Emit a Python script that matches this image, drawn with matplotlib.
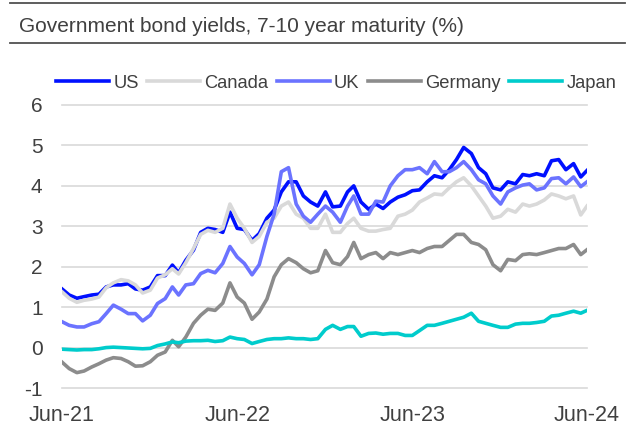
import datetime as dt
import matplotlib
matplotlib.use("Agg")
import matplotlib.pyplot as plt
from matplotlib.lines import Line2D

plt.rcParams['font.family'] = ['Liberation Sans', 'DejaVu Sans']

# ---- data (semi-monthly readings, % yield) ----
dates = [dt.date(2021, 6, 30)]
for y in (2021, 2022, 2023, 2024):
    for m in range(1, 13):
        if (y == 2021 and m < 7) or (y == 2024 and m > 6):
            continue
        dates.append(dt.date(y, m, 15))
        nxt = dt.date(y + (m == 12), m % 12 + 1, 1)
        dates.append(nxt - dt.timedelta(days=1))
dates[-1] = dt.date(2024, 6, 28)

us = [1.45, 1.30, 1.22, 1.26, 1.30, 1.32, 1.50, 1.55, 1.55, 1.58, 1.45, 1.42, 1.50, 1.78, 1.78,
      2.04, 1.85, 2.16, 2.41, 2.85, 2.95, 2.92, 2.85, 3.35, 2.95, 2.92, 2.65, 2.82, 3.20,
      3.40, 3.85, 4.10, 4.10, 3.75, 3.60, 3.50, 3.85,
      3.48, 3.50, 3.85, 4.00, 3.60, 3.42, 3.55, 3.44, 3.60, 3.72, 3.78, 3.88, 3.90, 4.10,
      4.25, 4.20, 4.40, 4.65, 4.95, 4.80,
      4.45, 4.30, 3.95, 3.90, 4.10, 4.05, 4.28, 4.25, 4.30, 4.25, 4.62, 4.65, 4.40, 4.55, 4.22, 4.38]

canada = [1.38, 1.22, 1.12, 1.17, 1.20, 1.25, 1.48, 1.60, 1.68, 1.65, 1.55, 1.35, 1.42, 1.72, 1.80,
          1.95, 1.82, 2.10, 2.45, 2.80, 2.90, 2.85, 2.95, 3.55, 3.20, 2.95, 2.60, 2.75, 3.10,
          3.20, 3.50, 3.60, 3.30, 3.20, 2.95, 2.95, 3.30,
          2.85, 2.85, 3.07, 3.20, 2.95, 2.88, 2.88, 2.92, 2.95, 3.25, 3.30, 3.40, 3.60, 3.70,
          3.80, 3.78, 3.95, 4.10, 4.20, 4.00,
          3.75, 3.50, 3.20, 3.25, 3.42, 3.35, 3.55, 3.50, 3.55, 3.65, 3.80, 3.75, 3.68, 3.75, 3.28, 3.50]

uk = [0.64, 0.55, 0.51, 0.51, 0.59, 0.64, 0.84, 1.05, 0.95, 0.84, 0.84, 0.66, 0.80, 1.09, 1.21,
      1.50, 1.30, 1.55, 1.58, 1.83, 1.91, 1.85, 2.08, 2.50, 2.24, 2.08, 1.80, 2.05, 2.75,
      3.30, 4.35, 4.45, 3.55, 3.25, 3.10, 3.30, 3.50,
      3.35, 3.10, 3.50, 3.75, 3.30, 3.30, 3.62, 3.60, 4.00, 4.25, 4.40, 4.40, 4.45, 4.30,
      4.60, 4.35, 4.35, 4.45, 4.60, 4.40,
      4.15, 4.05, 3.75, 3.55, 3.85, 3.95, 4.02, 4.05, 3.90, 3.95, 4.18, 4.20, 4.05, 4.22, 3.98, 4.10]

germany = [-0.36, -0.52, -0.62, -0.58, -0.48, -0.40, -0.31, -0.25, -0.27, -0.35, -0.46, -0.45, -0.35, -0.19, -0.11,
           0.18, 0.02, 0.26, 0.60, 0.80, 0.95, 0.92, 1.10, 1.60, 1.25, 1.10, 0.70, 0.88, 1.20,
           1.75, 2.05, 2.20, 2.10, 1.95, 1.85, 1.90, 2.40,
           2.10, 2.05, 2.25, 2.60, 2.20, 2.30, 2.35, 2.20, 2.35, 2.30, 2.35, 2.40, 2.35, 2.45,
           2.50, 2.50, 2.65, 2.80, 2.80, 2.60,
           2.55, 2.42, 2.05, 1.90, 2.18, 2.15, 2.30, 2.32, 2.30, 2.35, 2.40, 2.45, 2.45, 2.55, 2.30, 2.42]

japan = [-0.04, -0.05, -0.06, -0.05, -0.05, -0.03, 0.00, 0.01, 0.00, -0.01, -0.02, -0.03, -0.02, 0.05, 0.09,
         0.14, 0.12, 0.16, 0.17, 0.17, 0.18, 0.15, 0.17, 0.26, 0.22, 0.20, 0.10, 0.15, 0.20,
         0.22, 0.22, 0.24, 0.22, 0.22, 0.20, 0.22, 0.45,
         0.55, 0.45, 0.52, 0.52, 0.28, 0.35, 0.36, 0.33, 0.35, 0.35, 0.30, 0.30, 0.42, 0.55,
         0.55, 0.60, 0.65, 0.70, 0.75, 0.85,
         0.65, 0.60, 0.55, 0.50, 0.50, 0.58, 0.60, 0.60, 0.62, 0.65, 0.78, 0.80, 0.85, 0.90, 0.85, 0.92]

series_names = ["US", "Canada", "UK", "Germany", "Japan"]
series_values = [us, canada, uk, germany, japan]
series_colors = ["#0010ff", "#d9d9d9", "#6b73ff", "#8c8c8c", "#00cccc"]

tick_dates = [dt.date(2021, 6, 30), dt.date(2022, 6, 30), dt.date(2023, 6, 30), dt.date(2024, 6, 28)]
tick_labels = ["Jun-21", "Jun-22", "Jun-23", "Jun-24"]
y_ticks = [-1, 0, 1, 2, 3, 4, 5, 6]

# ---- figure ----
W, H = 637, 430
fig = plt.figure(figsize=(W / 100, H / 100), dpi=100)
ax = fig.add_axes([62 / W, 1 - 388 / H, (587 - 62) / W, (388 - 105) / H])

for name, vals, col in zip(series_names, series_values, series_colors):
    ax.plot(dates, vals, color=col, lw=2.6, label=name, solid_joinstyle='round')

ax.set_xlim(dates[0], dates[-1])
ax.set_ylim(-1, 6)
ax.set_yticks(y_ticks)
ax.set_yticklabels([str(v) for v in y_ticks])
ax.set_xticks(tick_dates)
ax.set_xticklabels(tick_labels)
ax.grid(axis='y', color='#d9d9d9', lw=1.2)
ax.set_axisbelow(True)
for s in ax.spines.values():
    s.set_visible(False)
ax.tick_params(axis='y', length=0, pad=14, labelsize=15, labelcolor='#404040')
ax.tick_params(axis='x', length=0, pad=12, labelsize=15.5, labelcolor='#404040')
for gl in ax.get_ygridlines():
    gl.set_clip_on(False)

# title and rules
fig.text(19 / W, 1 - 31.7 / H, "Government bond yields, 7-10 year maturity (%)",
         fontsize=15, color='#404040', va='baseline', ha='left')
for yy in (2.7, 42.7):
    fig.add_artist(Line2D([10 / W, 625 / W], [1 - yy / H] * 2, transform=fig.transFigure,
                          color='#505050', lw=1.3))

leg = fig.legend(loc='center left', bbox_to_anchor=(56 / W, 1 - 83.3 / H), ncol=5,
                 frameon=False, fontsize=13.2, handlelength=2.9, handletextpad=0.22,
                 columnspacing=0.46, borderpad=0, borderaxespad=0)
for t in leg.get_texts():
    t.set_color('#404040')
for h in leg.get_lines():
    h.set_linewidth(2.6)

fig.savefig("out.png", dpi=100)
